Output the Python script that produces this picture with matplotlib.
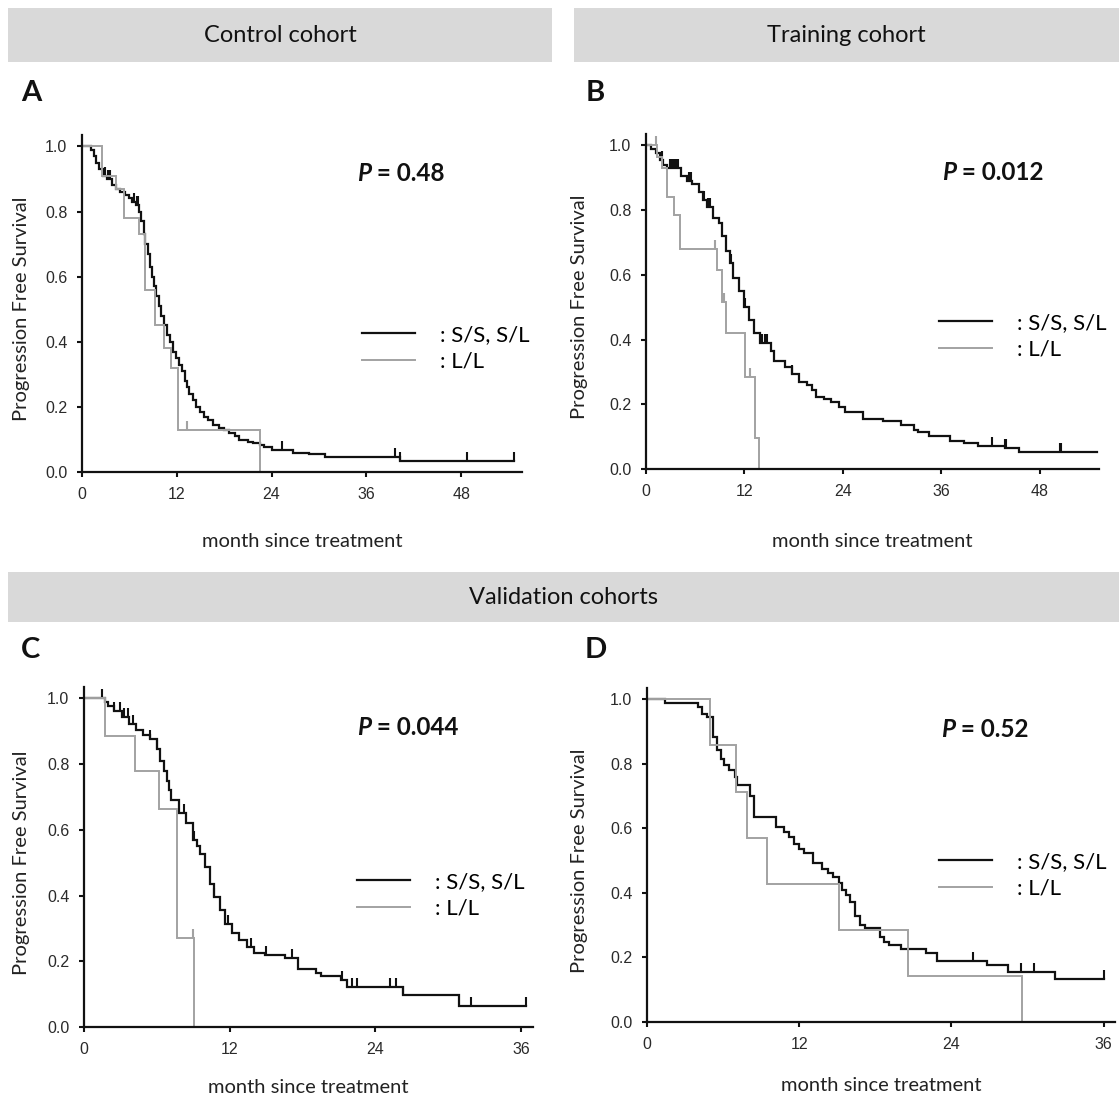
import numpy as np
import matplotlib
matplotlib.use("Agg")
import matplotlib.pyplot as plt
from matplotlib.patches import Rectangle
from matplotlib.path import Path

plt.rcParams["font.family"] = ["Lato", "DejaVu Sans"]

# ---- data (months, survival fraction) ----
# A: control cohort
a_ss_t = [0, 1.2, 1.5, 1.8, 2.1, 2.6, 3.2, 3.8, 4.3, 4.8, 5.4, 5.9, 6.3, 6.8, 7.2, 7.5, 7.8, 8.0, 8.3, 8.6,
          8.9, 9.1, 9.4, 9.7, 10.0, 10.4, 10.8, 11.1, 11.5, 11.9, 12.3, 12.7, 13.0, 13.3, 13.6, 14.0, 14.4,
          14.9, 15.4, 16.0, 16.6, 17.3, 18.0, 18.6, 19.4, 19.9, 21.0, 21.7, 22.5, 23.1, 24.0, 26.7, 28.7,
          30.8, 40.2, 54.7]
a_ss_s = [1.0, 0.99, 0.97, 0.95, 0.93, 0.91, 0.90, 0.88, 0.87, 0.86, 0.85, 0.84, 0.83, 0.82, 0.80, 0.77,
          0.73, 0.70, 0.67, 0.63, 0.60, 0.57, 0.54, 0.51, 0.48, 0.45, 0.42, 0.40, 0.37, 0.35, 0.33, 0.31,
          0.28, 0.26, 0.24, 0.22, 0.20, 0.185, 0.17, 0.16, 0.145, 0.135, 0.13, 0.12, 0.11, 0.098, 0.093,
          0.088, 0.082, 0.076, 0.067, 0.059, 0.054, 0.045, 0.034, 0.034]
a_ss_cens = [2.9, 3.3, 3.5, 6.6, 6.9, 7.1, 25.3, 39.6, 40.3, 48.8, 54.7]
a_ll_t = [0, 2.5, 4.3, 5.3, 7.2, 8.0, 9.3, 10.4, 11.3, 12.2, 22.5]
a_ll_s = [1.0, 0.91, 0.87, 0.78, 0.73, 0.56, 0.45, 0.38, 0.32, 0.13, 0.0]
a_ll_cens = [13.3]

# B: training cohort
b_ss_t = [0, 0.6, 1.2, 1.7, 2.1, 2.6, 4.3, 5.0, 5.6, 6.5, 7.0, 7.4, 8.2, 8.9, 9.3, 9.8, 10.2, 10.6, 11.3,
          11.9, 12.6, 13.2, 13.9, 15.2, 15.6, 16.9, 17.8, 18.7, 19.6, 20.2, 20.7, 21.7, 22.6, 23.5, 24.3,
          26.5, 28.9, 31.1, 32.6, 33.1, 34.5, 37.0, 38.7, 40.5, 43.7, 45.5, 55.0]
b_ss_s = [1.0, 0.99, 0.975, 0.955, 0.94, 0.93, 0.905, 0.89, 0.88, 0.855, 0.83, 0.81, 0.775, 0.76, 0.72,
          0.675, 0.635, 0.59, 0.55, 0.50, 0.46, 0.42, 0.39, 0.365, 0.335, 0.315, 0.295, 0.27, 0.26, 0.245,
          0.222, 0.217, 0.207, 0.192, 0.177, 0.156, 0.149, 0.136, 0.12, 0.115, 0.102, 0.085, 0.079, 0.072,
          0.064, 0.052, 0.052]
b_ss_cens = [1.9, 2.9, 3.1, 3.3, 3.5, 3.7, 3.9, 5.2, 5.5, 7.1, 7.5, 7.8, 10.3, 12.1, 14.1, 14.5, 14.8,
             17.8, 42.2, 43.7, 43.9, 50.4, 50.6]
b_ll_t = [0, 1.3, 2.0, 2.5, 3.4, 4.2, 8.7, 9.3, 9.7, 12.1, 13.3, 13.8]
b_ll_s = [1.0, 0.965, 0.93, 0.84, 0.785, 0.68, 0.615, 0.515, 0.42, 0.285, 0.095, 0.0]
b_ll_cens = [1.2, 8.4, 9.5, 12.7]

# C: validation cohort 1
c_ss_t = [0, 1.7, 2.0, 2.5, 3.1, 3.7, 4.3, 4.9, 5.4, 6.0, 6.3, 6.6, 6.8, 7.0, 7.2, 7.8, 8.4, 9.0, 9.3, 9.6,
          10.0, 10.4, 10.7, 11.2, 11.6, 12.2, 12.8, 13.4, 14.0, 14.9, 16.6, 17.6, 19.1, 19.5, 21.2, 21.7,
          26.3, 30.9, 36.4]
c_ss_s = [1.0, 0.99, 0.978, 0.963, 0.943, 0.923, 0.903, 0.888, 0.877, 0.847, 0.81, 0.78, 0.75, 0.72, 0.69,
          0.65, 0.62, 0.568, 0.55, 0.528, 0.487, 0.436, 0.396, 0.355, 0.315, 0.285, 0.264, 0.244, 0.224,
          0.219, 0.209, 0.178, 0.163, 0.156, 0.143, 0.122, 0.097, 0.065, 0.065]
c_ss_cens = [1.5, 2.5, 3.0, 3.3, 3.6, 4.0, 5.4, 6.0, 8.2, 9.1, 10.7, 11.9, 13.8, 15.0, 17.1, 21.3, 22.1,
             22.5, 25.2, 25.7, 26.3, 31.9, 36.4]
c_ll_t = [0, 1.75, 4.2, 6.2, 7.7, 9.1]
c_ll_s = [1.0, 0.885, 0.778, 0.665, 0.27, 0.0]
c_ll_cens = [8.95]

# D: validation cohort 2
d_ss_t = [0, 1.4, 4.0, 4.3, 4.7, 5.2, 5.5, 5.8, 6.1, 6.5, 6.9, 7.1, 8.1, 8.4, 10.2, 10.8, 11.2, 11.6, 12.0,
          12.4, 13.1, 13.8, 14.3, 14.7, 15.1, 15.4, 15.7, 16.0, 16.4, 16.8, 17.2, 18.4, 18.7, 19.1, 20.0,
          22.0, 22.9, 26.8, 28.5, 32.2, 36.0]
d_ss_s = [1.0, 0.988, 0.976, 0.955, 0.945, 0.883, 0.842, 0.816, 0.796, 0.78, 0.759, 0.733, 0.70, 0.636,
          0.605, 0.589, 0.574, 0.553, 0.537, 0.524, 0.493, 0.475, 0.461, 0.449, 0.43, 0.408, 0.393, 0.372,
          0.33, 0.30, 0.29, 0.264, 0.249, 0.238, 0.225, 0.213, 0.19, 0.177, 0.154, 0.132, 0.132]
d_ss_cens = [25.7, 29.5, 30.5, 36.0]
d_ll_t = [0, 5.0, 7.0, 7.9, 9.5, 15.1, 20.6, 29.6]
d_ll_s = [1.0, 0.857, 0.714, 0.571, 0.429, 0.286, 0.143, 0.0]
d_ll_cens = []

p_values = ["0.48", "0.012", "0.044", "0.52"]
panel_letters = ["A", "B", "C", "D"]
group_labels = [": S/S, S/L", ": L/L"]
y_ticks = [0.0, 0.2, 0.4, 0.6, 0.8, 1.0]
x_ticks_long = [0, 12, 24, 36, 48]
x_ticks_short = [0, 12, 24, 36]

# ---- layout (pixels) ----
W, H = 1119, 1097
fig = plt.figure(figsize=(W / 100, H / 100), dpi=100)
fig.patch.set_facecolor("white")

BLACK = "#111111"
GREY = "#a2a2a2"
censor_mark = Path([(0, 0), (0, 1)])


def px_axes(left, top, right, bottom):
    return fig.add_axes([left / W, 1 - bottom / H, (right - left) / W, (bottom - top) / H])


def km(ax, t, s, cens, color, lw, label):
    t = np.asarray(t, float)
    s = np.asarray(s, float)
    line, = ax.step(t, s, where="post", color=color, lw=lw, label=label, solid_joinstyle="miter")
    if len(cens):
        c = np.asarray(cens, float)
        idx = np.clip(np.searchsorted(t, c, side="right") - 1, 0, len(s) - 1)
        ax.plot(c, s[idx], ls="none", marker=censor_mark, ms=13, mew=1.5,
                mec=color, mfc="none", clip_on=False)
    return line


panels = [
    dict(box=(82, 135, 522, 472), xmax=55.7, xt=x_ticks_long,
         ss=(a_ss_t, a_ss_s, a_ss_cens), ll=(a_ll_t, a_ll_s, a_ll_cens),
         ptxt=(0.625, 0.887), leg=(0.636, 0.368), ylab=-0.118, xlab=-0.181),
    dict(box=(646, 134, 1099, 469), xmax=55.2, xt=x_ticks_long,
         ss=(b_ss_t, b_ss_s, b_ss_cens), ll=(b_ll_t, b_ll_s, b_ll_cens),
         ptxt=(0.653, 0.884), leg=(0.647, 0.396), ylab=-0.128, xlab=-0.191),
    dict(box=(84, 687, 533, 1027), xmax=37.0, xt=x_ticks_short,
         ss=(c_ss_t, c_ss_s, c_ss_cens), ll=(c_ll_t, c_ll_s, c_ll_cens),
         ptxt=(0.608, 0.881), leg=(0.608, 0.388), ylab=-0.12, xlab=-0.153),
    dict(box=(647, 688, 1115, 1022), xmax=36.9, xt=x_ticks_short,
         ss=(d_ss_t, d_ss_s, d_ss_cens), ll=(d_ll_t, d_ll_s, d_ll_cens),
         ptxt=(0.628, 0.876), leg=(0.624, 0.44), ylab=-0.126, xlab=-0.165),
]

for cfg, pval in zip(panels, p_values):
    ax = px_axes(*cfg["box"])
    h_ss = km(ax, *cfg["ss"], BLACK, 1.6, group_labels[0])
    h_ll = km(ax, *cfg["ll"], GREY, 1.4, group_labels[1])

    ax.set_xlim(0, cfg["xmax"])
    ax.set_ylim(0, 1.035)
    ax.set_xticks(cfg["xt"])
    ax.set_yticks(y_ticks)
    ax.set_yticklabels([f"{v:.1f}" for v in y_ticks])
    for side in ("top", "right"):
        ax.spines[side].set_visible(False)
    for side in ("left", "bottom"):
        ax.spines[side].set_linewidth(1.6)
        ax.spines[side].set_color(BLACK)
    ax.tick_params(length=3.5, width=1.5, pad=7, labelsize=11.5, labelcolor="#2a2a2a", color=BLACK)
    for lab in ax.get_xticklabels() + ax.get_yticklabels():
        lab.set_fontfamily("Liberation Sans")

    ax.set_ylabel("Progression Free Survival", fontsize=14.5, color="#222222")
    ax.yaxis.set_label_coords(cfg["ylab"], 0.5 / 1.035)
    ax.set_xlabel("month since treatment", fontsize=14.5, color="#222222")
    ax.xaxis.set_label_coords(0.5, cfg["xlab"])

    px, py = cfg["ptxt"]
    ptxt = ax.text(px, py, "P", transform=ax.transAxes, fontsize=17.5, fontweight="bold",
                   fontstyle="italic", va="center", ha="left", color=BLACK)
    ax.annotate(" = " + pval, xy=(1, 0.5), xycoords=ptxt, va="center", ha="left",
                fontsize=17.5, fontweight="bold", color=BLACK)

    ax.legend(handles=[h_ss, h_ll], loc="center left", bbox_to_anchor=cfg["leg"],
              frameon=False, fontsize=16, handlelength=2.4, handletextpad=1.1,
              labelspacing=0.3, borderpad=0, borderaxespad=0)

# ---- cohort headers and panel letters ----
headers = [("Control cohort", 8, 8, 552, 62),
           ("Training cohort", 574, 8, 1119, 62),
           ("Validation cohorts", 8, 572, 1119, 622)]
for text, x0, y0, x1, y1 in headers:
    fig.patches.append(Rectangle((x0 / W, 1 - y1 / H), (x1 - x0) / W, (y1 - y0) / H,
                                 transform=fig.transFigure, facecolor="#d9d9d9",
                                 edgecolor="none", zorder=0))
    fig.text((x0 + x1) / 2 / W, 1 - (y0 + y1) / 2 / H, text, ha="center", va="center",
             fontsize=17, color="#111111")

letter_pos = [(31, 93), (595, 93), (31, 650), (596, 650)]
for letter, (lx, ly) in zip(panel_letters, letter_pos):
    fig.text(lx / W, 1 - ly / H, letter, ha="center", va="center", fontsize=21,
             fontweight="bold", color="#111111")

fig.savefig("out.png", dpi=100, facecolor="white")
